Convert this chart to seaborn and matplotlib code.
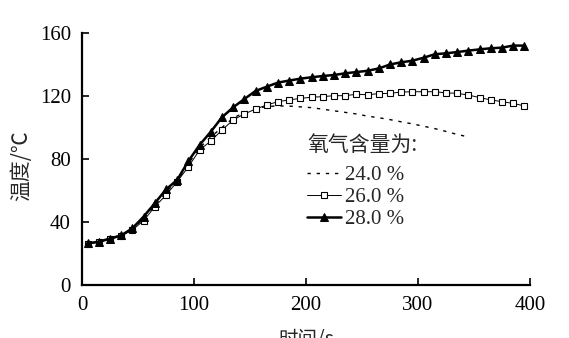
import matplotlib
matplotlib.use("Agg")
import matplotlib.pyplot as plt
import seaborn as sns
import pandas as pd

# Time (s) and temperature (°C) for three oxygen contents
t_24 = [5, 15, 25, 35, 45, 55, 65, 75, 85, 95, 105, 115, 125, 135, 145, 155, 165, 175,
        185, 195, 205, 215, 225, 235, 245, 255, 265, 275, 285, 295, 305, 315, 325, 335, 345]
temp_24 = [26.5, 27.5, 29.5, 31.5, 35.5, 42.0, 50.5, 59.0, 66.0, 77.0, 87.0, 94.0,
           100.0, 106.0, 109.5, 112.0, 113.3, 113.7, 113.6, 113.1, 112.6, 111.6, 110.6,
           109.6, 108.6, 107.2, 106.2, 105.0, 103.6, 102.3, 100.8, 99.3, 97.5, 95.6, 94.0]

t_26 = [5, 15, 25, 35, 45, 55, 65, 75, 85, 95, 105, 115, 125, 135, 145, 155, 165, 175,
        185, 195, 205, 215, 225, 235, 245, 255, 265, 275, 285, 295, 305, 315, 325, 335,
        345, 355, 365, 375, 385, 395]
temp_26 = [26.0, 27.0, 29.0, 31.0, 35.0, 40.8, 49.7, 57.1, 65.6, 75.1, 85.7, 91.4,
           98.4, 104.8, 108.6, 111.7, 114.3, 116.4, 117.5, 118.5, 119.2, 119.6, 120.2,
           120.2, 121.1, 120.8, 121.5, 121.7, 122.5, 122.7, 122.7, 122.7, 122.0, 121.7,
           120.6, 119.0, 117.5, 116.4, 115.3, 113.7]

t_28 = t_26
temp_28 = [26.5, 27.5, 29.5, 31.5, 36.0, 43.4, 51.9, 60.7, 66.7, 78.7, 88.9, 97.3,
           106.5, 112.8, 118.1, 123.2, 125.9, 128.5, 129.8, 131.0, 131.9, 132.7, 133.3,
           134.4, 135.2, 136.0, 137.5, 140.0, 141.4, 142.4, 144.3, 146.5, 147.1, 147.9,
           148.8, 149.6, 150.3, 150.7, 152.0, 152.0]

labels = ["24.0 %", "26.0 %", "28.0 %"]
x_ticks = [0, 100, 200, 300, 400]
y_ticks = [0, 40, 80, 120, 160]

sns.set_style("ticks")
plt.rcParams["font.family"] = ["Liberation Serif", "Noto Sans CJK SC"]
cjk = ["Noto Sans CJK SC", "DejaVu Sans"]

fig = plt.figure(figsize=(5.69, 3.38), dpi=100)
ax = fig.add_axes([0.1441, 0.1568, 0.7873, 0.7456])

df24 = pd.DataFrame({"t": t_24, "T": temp_24})
df26 = pd.DataFrame({"t": t_26, "T": temp_26})
df28 = pd.DataFrame({"t": t_28, "T": temp_28})

sns.lineplot(data=df24, x="t", y="T", ax=ax, color="black", lw=1.0,
             dashes=False, label=labels[0])
ax.lines[-1].set_dashes([2.4, 4.2])
sns.lineplot(data=df26, x="t", y="T", ax=ax, color="black", lw=0.7,
             marker="s", markersize=4.2, markerfacecolor="white",
             markeredgecolor="black", markeredgewidth=0.8, label=labels[1])
sns.lineplot(data=df28, x="t", y="T", ax=ax, color="black", lw=1.8,
             marker="^", markersize=6.3, markerfacecolor="black",
             markeredgecolor="black", label=labels[2])

ax.set_xlim(0, 400)
ax.set_ylim(0, 160)
ax.set_xticks(x_ticks)
ax.set_yticks(y_ticks)
ax.tick_params(direction="in", length=5, width=1.2, labelsize=15, colors="black")
ax.tick_params(axis="x", pad=8)
ax.tick_params(axis="y", pad=8)
for s in ["top", "right"]:
    ax.spines[s].set_visible(False)
for s in ["left", "bottom"]:
    ax.spines[s].set_linewidth(1.6)
    ax.spines[s].set_color("black")

ax.set_ylabel("温度/℃", family=cjk, fontsize=15)
ax.yaxis.set_label_coords(-0.112, 0.472)
ax.set_xlabel("时间/s", family=cjk, fontsize=14, labelpad=10)

leg = ax.legend(title="氧气含量为:", frameon=False, loc="upper left",
                bbox_to_anchor=(0.502, 0.6), fontsize=15, handlelength=1.65,
                handletextpad=0.2, labelspacing=0.12, borderaxespad=0,
                borderpad=0,
                title_fontproperties={"family": cjk, "size": 15})
leg._legend_box.align = "left"
leg._legend_box.sep = 7

fig.savefig("out.png", dpi=100)
